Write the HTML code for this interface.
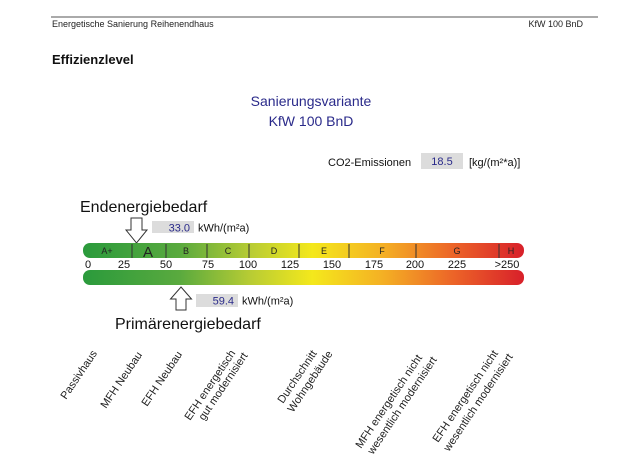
<!DOCTYPE html>
<html><head><meta charset="utf-8"><style>
html,body{margin:0;padding:0;background:#fff;}
svg{display:block;font-family:"Liberation Sans",sans-serif;}
</style></head><body>
<svg width="626" height="470" viewBox="0 0 626 470" xmlns="http://www.w3.org/2000/svg">
<defs>
<linearGradient id="g" x1="0" x2="1" y1="0" y2="0">
<stop offset="0" stop-color="#2a9a3c"/>
<stop offset="0.22" stop-color="#5aaa3e"/>
<stop offset="0.38" stop-color="#b8cc34"/>
<stop offset="0.52" stop-color="#f4e81c"/>
<stop offset="0.68" stop-color="#f4b024"/>
<stop offset="0.84" stop-color="#ec6428"/>
<stop offset="1" stop-color="#d8202a"/>
</linearGradient>
</defs>
<line x1="51" y1="17" x2="598" y2="17" stroke="#555" stroke-width="1"/>
<text x="52" y="27" font-size="9" fill="#222">Energetische Sanierung Reihenendhaus</text>
<text x="583" y="27" font-size="9" fill="#222" text-anchor="end">KfW 100 BnD</text>
<text x="52" y="64" font-size="13" font-weight="bold" fill="#111">Effizienzlevel</text>
<text x="311" y="106" font-size="14" fill="#2a2a8a" text-anchor="middle">Sanierungsvariante</text>
<text x="311" y="126" font-size="14" fill="#2a2a8a" text-anchor="middle">KfW 100 BnD</text>
<text x="328" y="166" font-size="11" fill="#111">CO2-Emissionen</text>
<rect x="421" y="153" width="42" height="16" fill="#dcdcdc"/>
<text x="442" y="165" font-size="11" fill="#2a2a8a" text-anchor="middle">18.5</text>
<text x="469" y="166" font-size="11" fill="#111">[kg/(m²*a)]</text>

<text x="80" y="212" font-size="16" fill="#111">Endenergiebedarf</text>
<rect x="152" y="221" width="42" height="12" fill="#dcdcdc"/>
<text x="190" y="231.5" font-size="11" fill="#2a2a8a" text-anchor="end">33.0</text>
<text x="198" y="231.5" font-size="11" fill="#111">kWh/(m²a)</text>
<path d="M131,218 H142 V230 H147 L136.5,243 L126,230 H131 Z" fill="#fff" stroke="#333" stroke-width="1"/>

<rect x="83" y="243" width="441" height="15" rx="7" fill="url(#g)"/>
<g stroke="#333" stroke-width="1">
<line x1="132" y1="244" x2="132" y2="258"/><line x1="166" y1="244" x2="166" y2="258"/>
<line x1="207" y1="244" x2="207" y2="258"/><line x1="249" y1="244" x2="249" y2="258"/>
<line x1="299" y1="244" x2="299" y2="258"/><line x1="349" y1="244" x2="349" y2="258"/>
<line x1="416" y1="244" x2="416" y2="258"/><line x1="499" y1="244" x2="499" y2="258"/>
</g>
<g font-size="9" fill="#222" text-anchor="middle">
<text x="107" y="254">A+</text><text x="186" y="254">B</text><text x="228" y="254">C</text>
<text x="274" y="254">D</text><text x="324" y="254">E</text><text x="382" y="254">F</text>
<text x="457" y="254">G</text><text x="511" y="254">H</text>
</g>
<text x="148" y="257" font-size="15" fill="#222" text-anchor="middle">A</text>
<g font-size="11" fill="#111" text-anchor="middle">
<text x="88" y="268">0</text><text x="124" y="268">25</text><text x="166" y="268">50</text>
<text x="208" y="268">75</text><text x="248" y="268">100</text><text x="290" y="268">125</text>
<text x="332" y="268">150</text><text x="374" y="268">175</text><text x="415" y="268">200</text>
<text x="457" y="268">225</text><text x="507" y="268">&gt;250</text>
</g>
<rect x="83" y="270" width="441" height="15" rx="7" fill="url(#g)"/>

<path d="M181,287 L191.5,299 H186 V310 H176 V299 H170.5 Z" fill="#fff" stroke="#333" stroke-width="1"/>
<rect x="196" y="294" width="42" height="13" fill="#dcdcdc"/>
<text x="234" y="304.5" font-size="11" fill="#2a2a8a" text-anchor="end">59.4</text>
<text x="242" y="304.5" font-size="11" fill="#111">kWh/(m²a)</text>
<text x="115" y="329" font-size="16" fill="#111">Primärenergiebedarf</text>

<g font-size="11" fill="#222">
<text transform="translate(66,400) rotate(-56)">Passivhaus</text>
<text transform="translate(106,409) rotate(-56)">MFH Neubau</text>
<text transform="translate(147,407) rotate(-56)">EFH Neubau</text>
<text transform="translate(190,421) rotate(-56)">EFH energetisch</text>
<text transform="translate(204,421) rotate(-56)">gut modernisiert</text>
<text transform="translate(283,404) rotate(-56)">Durchschnitt</text>
<text transform="translate(293,413) rotate(-56)">Wohngebäude</text>
<text transform="translate(361,449) rotate(-56)">MFH energetisch nicht</text>
<text transform="translate(373,455) rotate(-56)">wesentlich modernisiert</text>
<text transform="translate(438,443) rotate(-56)">EFH energetisch nicht</text>
<text transform="translate(449,452) rotate(-56)">wesentlich modernisiert</text>
</g>
</svg>
</body></html>
